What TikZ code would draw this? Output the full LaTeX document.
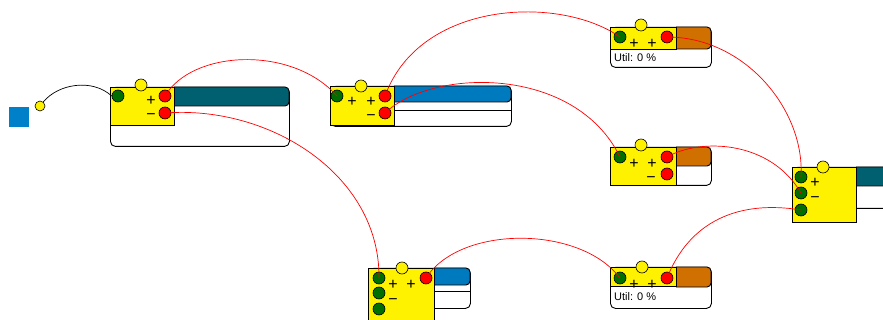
\documentclass[tikz,border=0pt]{standalone}
\usepackage{fontspec}
\setmainfont{Liberation Sans}
\definecolor{tealbar}{RGB}{0,96,112}
\definecolor{bluebar}{RGB}{0,122,190}
\definecolor{orangebar}{RGB}{208,112,0}
\definecolor{dotgreen}{RGB}{0,110,0}
\definecolor{sqblue}{RGB}{0,128,200}
\begin{document}
\begin{tikzpicture}[x=1pt,y=-1pt,
  outerbox/.style={draw,fill=white,rounded corners=5pt,line width=0.9pt,anchor=north west,inner sep=0pt},
  ybox/.style={draw,fill=yellow,line width=0.9pt,anchor=north west,inner sep=0pt},
  bar/.style={draw,line width=0.9pt,rounded corners=4pt},
  dotbase/.style={circle,draw,line width=0.6pt,minimum size=12pt,inner sep=0pt},
  gdot/.style={dotbase,fill=dotgreen},
  rdot/.style={dotbase,fill=red},
  ydot/.style={dotbase,fill=yellow},
  sign/.style={inner sep=0pt,yshift=-5pt,font=\fontsize{16}{16}\selectfont},
  util/.style={inner sep=0pt,anchor=west,font=\fontsize{11}{11}\selectfont},
  wire/.style={red,line width=0.7pt},
]
\clip (0,0) rectangle (883,320);
\fill[white] (0,0) rectangle (883,320);

% source
\node[fill=sqblue,minimum size=20pt,inner sep=0pt,anchor=north west] (src) at (9,107) {};
\node[dotbase,fill=yellow,minimum size=10pt] (srcdot) at (40,106) {};

% block 1
\node[outerbox,minimum width=179pt,minimum height=59pt] (b1o) at (110,87) {};
\filldraw[bar,fill=tealbar] (174,87) -- (289,87) -- (289,106) -- (174,106);
\node[ybox,minimum width=64pt,minimum height=38pt] (b1y) at (110,87) {};
\node[ydot] (b1t) at (141,85) {};
\node[gdot] (b1g) at (118,96) {};
\node[rdot] (b1r1) at (165,96) {};
\node[rdot] (b1r2) at (165,113) {};
\node[sign] (b1p) at (151,101) {\smash{+}};
\node[sign] (b1m) at (151,115) {\smash{−}};

% block 2
\node[outerbox,minimum width=181pt,minimum height=40pt] (b2o) at (330,86) {};
\filldraw[bar,fill=bluebar] (394,86) -- (511,86) -- (511,102) -- (394,102);
\draw[line width=0.9pt] (394,110) -- (511,110);
\node[ybox,minimum width=64pt,minimum height=39pt] (b2y) at (330,86) {};
\node[ydot] (b2t) at (361,86) {};
\node[gdot] (b2g) at (337,96) {};
\node[rdot] (b2r1) at (385,96) {};
\node[rdot] (b2r2) at (385,113) {};
\node[sign] (b2p1) at (352,102) {\smash{+}};
\node[sign] (b2p2) at (371,102) {\smash{+}};
\node[sign] (b2m) at (371,116) {\smash{−}};

% block 3
\node[outerbox,minimum width=101pt,minimum height=40pt] (b3o) at (610,27) {};
\filldraw[bar,fill=orangebar] (676,27) -- (711,27) -- (711,49) -- (676,49);
\node[ybox,minimum width=66pt,minimum height=22pt] (b3y) at (610,27) {};
\node[ydot] (b3t) at (641,25) {};
\node[gdot] (b3g) at (620,37) {};
\node[rdot] (b3r) at (667,37) {};
\node[sign] (b3p1) at (634,44) {\smash{+}};
\node[sign] (b3p2) at (652,44) {\smash{+}};
\node[util] (b3u) at (614,58) {Util: 0 \%};

% block 4
\node[outerbox,minimum width=101pt,minimum height=38pt] (b4o) at (610,147) {};
\filldraw[bar,fill=orangebar] (676,147) -- (711,147) -- (711,166) -- (676,166);
\node[ybox,minimum width=66pt,minimum height=38pt] (b4y) at (610,147) {};
\node[ydot] (b4t) at (641,145) {};
\node[gdot] (b4g) at (620,157) {};
\node[rdot] (b4r1) at (667,157) {};
\node[rdot] (b4r2) at (667,174) {};
\node[sign] (b4p1) at (634,164) {\smash{+}};
\node[sign] (b4p2) at (652,164) {\smash{+}};
\node[sign] (b4m) at (651,178) {\smash{−}};

% block 5
\node[outerbox,minimum width=110pt,minimum height=41pt] (b5o) at (792,167) {};
\filldraw[bar,fill=tealbar] (856,167) -- (902,167) -- (902,186) -- (856,186);
\node[ybox,minimum width=64pt,minimum height=55pt] (b5y) at (792,167) {};
\node[ydot] (b5t) at (823,167) {};
\node[gdot] (b5g1) at (801,177) {};
\node[gdot] (b5g2) at (801,193) {};
\node[gdot] (b5g3) at (801,210) {};
\node[sign] (b5p) at (815,183) {\smash{+}};
\node[sign] (b5m) at (815,198) {\smash{−}};

% block 6
\node[outerbox,minimum width=102pt,minimum height=40pt] (b6o) at (368,268) {};
\filldraw[bar,fill=bluebar] (434,268) -- (470,268) -- (470,285) -- (434,285);
\draw[line width=0.9pt] (434,291) -- (470,291);
\node[ybox,minimum width=66pt,minimum height=60pt] (b6y) at (368,268) {};
\node[ydot] (b6t) at (402,268) {};
\node[gdot] (b6g1) at (379,278) {};
\node[gdot] (b6g2) at (379,293) {};
\node[gdot] (b6g3) at (379,309) {};
\node[rdot] (b6r) at (426,278) {};
\node[sign] (b6p1) at (393,285) {\smash{+}};
\node[sign] (b6p2) at (411,285) {\smash{+}};
\node[sign] (b6m) at (393,299) {\smash{−}};

% block 7
\node[outerbox,minimum width=101pt,minimum height=41pt] (b7o) at (610,267) {};
\filldraw[bar,fill=orangebar] (676,267) -- (711,267) -- (711,287) -- (676,287);
\node[ybox,minimum width=66pt,minimum height=19pt] (b7y) at (610,267) {};
\node[ydot] (b7t) at (642,267) {};
\node[gdot] (b7g) at (620,278) {};
\node[rdot] (b7r) at (667,278) {};
\node[sign] (b7p1) at (634,285) {\smash{+}};
\node[sign] (b7p2) at (652,285) {\smash{+}};
\node[util] (b7u) at (614,297) {Util: 0 \%};

% connectors
\draw[line width=0.7pt] (srcdot) .. controls (58,84) and (92,78) .. (b1g.west);
\draw[wire] (b1r1.center) .. controls (192,50) and (292,45) .. (b2g.center);
\draw[wire] (b1r2.center) .. controls (270,105) and (380,175) .. (b6g1.center);
\draw[wire] (b2r1.center) .. controls (420,0) and (560,-5) .. (b3g.center);
\draw[wire] (b2r2.center) .. controls (432,68) and (575,65) .. (b4g.center);
\draw[wire] (b3r.center) .. controls (745,37) and (805,110) .. (b5g1.center);
\draw[wire] (b4r1.center) .. controls (700,138) and (770,140) .. (b5g2.center);
\draw[wire] (b6r.center) .. controls (460,225) and (580,225) .. (b7g.center);
\draw[wire] (b7r.center) .. controls (690,220) and (740,200) .. (b5g3.center);
\end{tikzpicture}
\end{document}
